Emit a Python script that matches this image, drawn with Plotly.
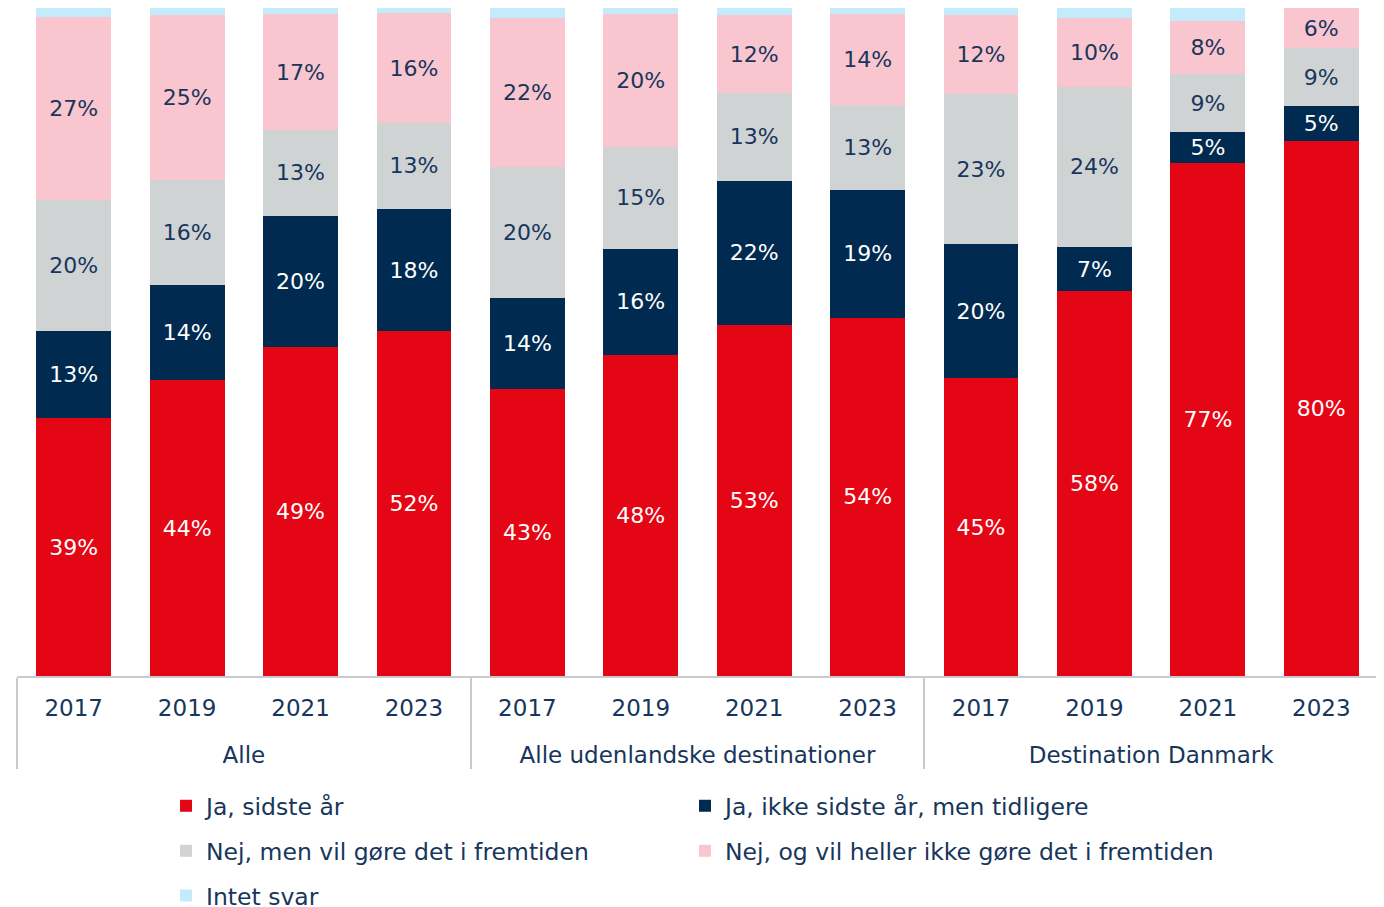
import plotly.graph_objects as go

# ── palette ──
RED = "#E50615"
NAVY = "#002A50"
GREY = "#D0D3D4"
PINK = "#F9C5CE"
LIGHTBLUE = "#C4EBFB"
TEXT = "#17365C"
WHITE = "#FFFFFF"
AXIS = "#C8CACD"
FONT = "DejaVu Sans, sans-serif"

# ── data (share of respondents, %) ──
GROUPS = ["Alle"] * 4 + ["Alle udenlandske destinationer"] * 4 + ["Destination Danmark"] * 4
YEARS = ["2017", "2019", "2021", "2023"] * 3

JA_SIDSTE = [38.6, 44.3, 49.25, 51.6, 43.0, 48.05, 52.6, 53.6, 44.6, 57.6, 76.8, 80.1]
JA_TIDLIGERE = [13.0, 14.2, 19.6, 18.3, 13.6, 15.9, 21.5, 19.2, 20.0, 6.6, 4.6, 5.2]
NEJ_FREMTID = [19.6, 15.7, 12.9, 12.9, 19.6, 15.3, 13.2, 12.7, 22.55, 24.0, 8.7, 8.7]
NEJ_ALDRIG = [27.4, 24.7, 17.3, 16.4, 22.35, 19.9, 11.6, 13.6, 11.85, 10.3, 7.9, 6.0]
INTET_SVAR = [1.4, 1.1, 0.95, 0.8, 1.45, 0.85, 1.1, 0.9, 1.0, 1.5, 2.0, 0.0]

# name, values, bar colour, label colour, legend slot (column, row)
SERIES = [
    ("Ja, sidste år", JA_SIDSTE, RED, WHITE, (0, 0)),
    ("Ja, ikke sidste år, men tidligere", JA_TIDLIGERE, NAVY, WHITE, (1, 0)),
    ("Nej, men vil gøre det i fremtiden", NEJ_FREMTID, GREY, TEXT, (0, 1)),
    ("Nej, og vil heller ikke gøre det i fremtiden", NEJ_ALDRIG, PINK, TEXT, (1, 1)),
    ("Intet svar", INTET_SVAR, LIGHTBLUE, TEXT, (0, 2)),
]
LEGEND_X = [0.1095, 0.4908]
LEGEND_Y = [-0.1946, -0.262, -0.329]

# a tall invisible space on each side of the year labels pushes the
# group labels a bit further down, like in the original layout
PAD = '<span style="font-size:47px"> </span>'
YEAR_LABELS = [f"{PAD}{y}{PAD}" for y in YEARS]

fig = go.Figure()
legends = {}
for i, (name, vals, color, tcolor, (col, row)) in enumerate(SERIES):
    labelled = name != "Intet svar"
    leg = "legend" if i == 0 else f"legend{i + 1}"
    fig.add_trace(go.Bar(
        x=[GROUPS, YEAR_LABELS], y=vals, name=name,
        marker=dict(color=color, line_width=0),
        text=[f"{v:.0f}%" for v in vals] if labelled else None,
        textposition="inside" if labelled else "none",
        insidetextanchor="middle", textangle=0, constraintext="none",
        textfont=dict(family=FONT, size=22, color=tcolor),
        legend=leg, showlegend=True,
        customdata=YEARS,
        hovertemplate="%{customdata}: %{y:.0f}%<extra>" + name + "</extra>",
    ))
    legends[leg] = dict(
        orientation="h", xanchor="left", x=LEGEND_X[col],
        yanchor="middle", y=LEGEND_Y[row],
        font=dict(family=FONT, size=23.5, color=TEXT),
        bgcolor="rgba(0,0,0,0)", borderwidth=0,
    )

# the page body keeps its default 8px margin, so the figure is a bit
# smaller than the window and the plot area is shifted to compensate
fig.update_layout(
    width=1370, height=899,
    showlegend=True,
    barmode="stack", bargap=0.34,
    paper_bgcolor=WHITE, plot_bgcolor=WHITE,
    font=dict(family=FONT, size=23, color=TEXT),
    margin=dict(l=9, r=0, t=0, b=231, autoexpand=False),
    xaxis=dict(
        type="multicategory", showline=True, linecolor=AXIS, linewidth=2,
        showdividers=True, dividercolor=AXIS, dividerwidth=2,
        ticks="", ticklabelstandoff=10,
        showgrid=False, tickfont=dict(family=FONT, size=23, color=TEXT),
    ),
    yaxis=dict(range=[0, 100], visible=False, fixedrange=True),
    **legends,
)

fig.write_html("out.html")
